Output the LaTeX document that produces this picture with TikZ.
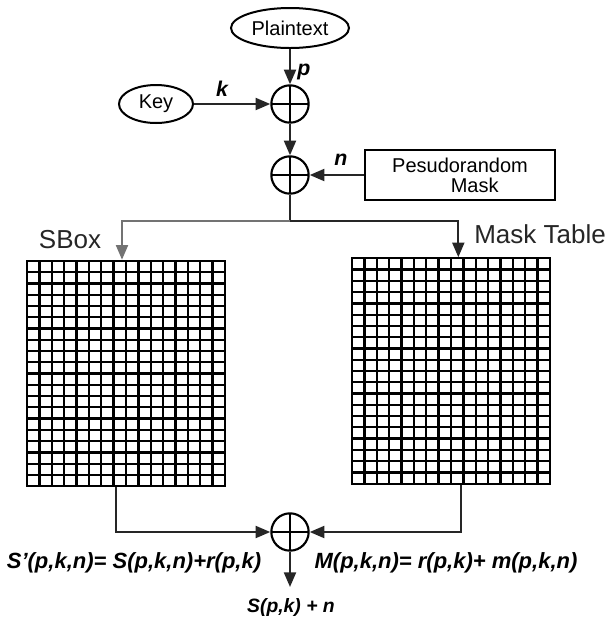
\documentclass[tikz,border=0pt]{standalone}
\usepackage{fontspec}
\setmainfont{Liberation Sans}
\usetikzlibrary{arrows.meta,shapes.geometric,calc}
\begin{document}
\begin{tikzpicture}[x=0.75pt,y=-0.75pt,
  txt/.style={font=\fontsize{15}{17}\selectfont},
  big/.style={font=\fontsize{19.5}{22}\selectfont, text=black!85},
  lbl/.style={font=\fontsize{16}{18}\bfseries\itshape\selectfont, inner sep=1pt},
  fml/.style={font=\fontsize{16.5}{19}\bfseries\itshape\selectfont, inner sep=1pt},
  res/.style={font=\fontsize{14.5}{17}\bfseries\itshape\selectfont, inner sep=1pt},
  wire/.style={line width=1.6pt, draw=black!85},
  arr/.style={wire, -{Triangle[length=11pt,width=9pt]}},
  grayarr/.style={line width=1.6pt, draw=black!55, -{Triangle[length=11pt,width=9pt]}},
  oval/.style={ellipse, draw, line width=1.5pt, inner sep=0pt, txt},
  xor/.style={circle, draw, line width=1.6pt, minimum size=28pt, inner sep=0pt,
    path picture={\draw[line width=1.6pt]
      (path picture bounding box.north) -- (path picture bounding box.south)
      (path picture bounding box.west) -- (path picture bounding box.east);}},
  gridbox/.style={draw, line width=1.7pt, minimum width=148.5pt, minimum height=169pt,
    inner sep=0pt,
    path picture={
      \foreach \i in {1,...,15}
        \draw[line width=1.7pt]
          ($(path picture bounding box.north west)!\i/16!(path picture bounding box.north east)$) --
          ($(path picture bounding box.south west)!\i/16!(path picture bounding box.south east)$);
      \foreach \j in {1,...,19}
        \draw[line width=1.7pt]
          ($(path picture bounding box.north west)!\j/20!(path picture bounding box.south west)$) --
          ($(path picture bounding box.north east)!\j/20!(path picture bounding box.south east)$);
    }}
]
\useasboundingbox (0,0) rectangle (606,626);

% inputs
\node[oval, minimum width=88.5pt, minimum height=30pt] (plain) at (290,28) {Plaintext};
\node[oval, minimum width=55.5pt, minimum height=28.5pt] (key) at (156,104) {Key};
\node[draw, line width=1.5pt, minimum width=142.5pt, minimum height=37.5pt,
      align=center, txt, inner sep=0pt] (mask) at (460,175) {Pesudorandom\\[-2pt]\hspace*{22pt}Mask};

% xor stages
\node[xor] (x1) at (290,104) {};
\node[xor] (x2) at (290,175) {};

\draw[arr] (plain) -- (x1);
\draw[arr] (key) -- (x1);
\draw[arr] (x1) -- (x2);
\draw[arr] (mask) -- (x2);

\node[lbl] (lp) at (304,72) {p};
\node[lbl] (lk) at (222,89) {k};
\node[lbl] (ln) at (341,160) {n};

% tables
\node[gridbox] (sbox) at (126,373.5) {};
\node[gridbox] (mtable) at (451,371) {};
\node[big] (sboxlbl) at (70,240) {SBox};
\node[big] (mtlbl) at (540,234) {Mask Table};

% split to both tables
\coordinate (split) at (290,221);
\draw[wire] (x2) -- (split);
\draw[grayarr] (split) -| ([xshift=-3pt]sbox.north);
\draw[arr] (split) -| ([xshift=5.5pt]mtable.north);

% recombination
\node[xor] (x3) at (290,532) {};
\draw[arr] ([xshift=-7.5pt]sbox.south) |- (x3.west);
\draw[arr] ([xshift=7.5pt]mtable.south) |- (x3.east);
\coordinate (out) at (290,587);
\draw[arr] (x3) -- (out);

\node[fml] (fs) at (134,563) {S'(p,k,n)= S(p,k,n)+r(p,k)};
\node[fml] (fm) at (446,563) {M(p,k,n)= r(p,k)+ m(p,k,n)};
\node[res] (result) at (291,607) {S(p,k) + n};
\end{tikzpicture}
\end{document}
